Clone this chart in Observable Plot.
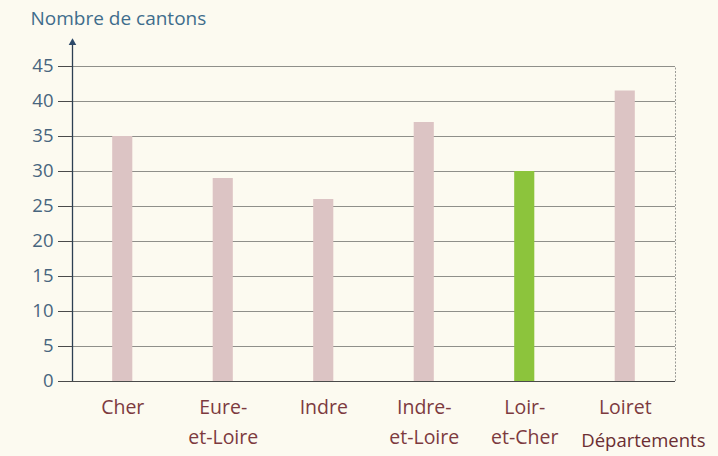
<!DOCTYPE html>
<html>
<head>
<meta charset="utf-8">
<script src="https://cdn.jsdelivr.net/npm/d3@7"></script>
<script src="https://cdn.jsdelivr.net/npm/@observablehq/plot@0.6"></script>
<style>
  html, body { margin: 0; padding: 0; background: #fcfaf0; }
</style>
</head>
<body>
<div id="chart"></div>
<script>
const categories = ["Cher", "Eure-et-Loire", "Indre", "Indre-et-Loire", "Loir-et-Cher", "Loiret"];
const labels = ["Cher", "Eure-\net-Loire", "Indre", "Indre-\net-Loire", "Loir-\net-Cher", "Loiret"];
const values = [35, 29, 26, 37, 30, 41.5];
const highlighted = ["Loir-et-Cher"];
const yTicks = [0, 5, 10, 15, 20, 25, 30, 35, 40, 45];
const yMax = 45;
const arrowTop = 48.4;
const title = "Nombre de cantons";
const xTitle = "Départements";

const data = categories.map((c, i) => ({
  category: c,
  label: labels[i],
  value: values[i],
  i,
  hi: highlighted.includes(c)
}));

const halfBar = 0.1;

const chart = Plot.plot({
  width: 718,
  height: 456,
  marginLeft: 72,
  marginRight: 43,
  marginTop: 66,
  marginBottom: 75,
  style: { fontFamily: "'Open Sans', sans-serif", background: "#fcfaf0" },
  x: { domain: [0, categories.length], axis: null },
  y: { domain: [0, yMax], axis: null },
  marks: [
    Plot.gridY(yTicks.filter(t => t > 0), { stroke: "#8f8f8a", strokeOpacity: 1, strokeWidth: 1 }),
    Plot.ruleX([categories.length], { y1: 0, y2: yMax, stroke: "#9a9a96", strokeDasharray: "2,1.5" }),
    Plot.rectY(data, {
      x1: d => d.i + 0.5 - halfBar,
      x2: d => d.i + 0.5 + halfBar,
      y: "value",
      fill: d => d.hi ? "#8cc43c" : "#dcc4c4"
    }),
    Plot.ruleY([0], { stroke: "#4a4a4a", strokeWidth: 1.2 }),
    Plot.ruleX([0], { y1: 0, y2: arrowTop, stroke: "#2d3f52", strokeWidth: 1.3 }),
    Plot.dot([arrowTop], { x: () => 0, y: d => d, symbol: "triangle", r: 2.8, fill: "#2d4a6a", stroke: null }),
    Plot.axisY({
      ticks: yTicks, tickSize: 14, tickPadding: 5, label: null,
      fontSize: 18.5, fill: "#48657e", stroke: "#4a4a4a"
    }),
    Plot.text(data, {
      x: d => d.i + 0.5, y: 0, text: "label",
      lineAnchor: "top", dy: 12, lineHeight: 1.5,
      fontSize: 19.5, fill: "#7d3a3f"
    }),
    Plot.text([title], {
      frameAnchor: "top-left", dx: -42, dy: -55, lineAnchor: "top",
      textAnchor: "start", fontSize: 19, fill: "#3f6d8c"
    }),
    Plot.text([xTitle], {
      frameAnchor: "bottom-right", dx: 30, dy: 52, lineAnchor: "top",
      textAnchor: "end", fontSize: 18.5, fill: "#6b2e33"
    })
  ]
});

document.getElementById("chart").appendChild(chart);
</script>
</body>
</html>
